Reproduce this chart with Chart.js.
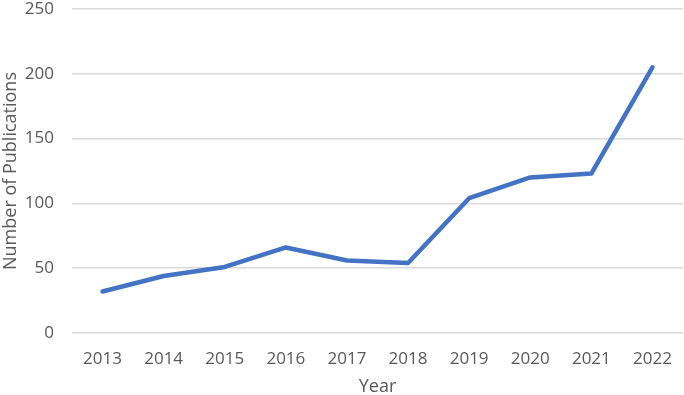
<!DOCTYPE html>
<html>
<head>
<meta charset="utf-8">
<script src="https://cdn.jsdelivr.net/npm/chart.js@4"></script>
<style>
  html, body { margin: 0; padding: 0; background: #fff; }
  #wrap { width: 684px; height: 395px; }
</style>
</head>
<body>
<div id="wrap"><canvas id="myChart"></canvas></div>
<script>
const years = ['2013', '2014', '2015', '2016', '2017', '2018', '2019', '2020', '2021', '2022'];
const publications = [32, 44, 51, 66, 56, 54, 104, 120, 123, 205];
const yTicks = [0, 50, 100, 150, 200, 250];

const ctx = document.getElementById('myChart');

new Chart(ctx, {
    type: 'line',
    data: {
        labels: years,
        datasets: [{
            label: 'Publications',
            data: publications,
            borderColor: '#4472C4',
            backgroundColor: '#4472C4',
            borderWidth: 4.5,
            pointRadius: 0,
            tension: 0,
            borderCapStyle: 'round',
            borderJoinStyle: 'round'
        }]
    },
    options: {
        responsive: true,
        maintainAspectRatio: false,
        animation: false,
        layout: { padding: { top: 0, right: 1, left: 0, bottom: 0 }, autoPadding: false },
        plugins: {
            legend: { display: false },
            tooltip: { enabled: false }
        },
        scales: {
            x: {
                offset: true,
                grid: { display: false },
                border: { display: false },
                ticks: { color: '#595959', font: { family: 'Open Sans', size: 17 }, padding: 8 },
                title: { display: true, text: 'Year', color: '#595959', font: { family: 'Open Sans', size: 18 }, padding: { top: 0, bottom: -3 } },
                afterFit: (axis) => { axis.height = 62; }
            },
            y: {
                min: yTicks[0],
                max: yTicks[yTicks.length - 1],
                afterBuildTicks: (axis) => { axis.ticks = yTicks.map(v => ({ value: v })); },
                grid: { color: '#d9d9d9', lineWidth: 1.5, drawTicks: false },
                border: { display: false },
                ticks: { color: '#595959', font: { family: 'Open Sans', size: 17 }, padding: 18 },
                title: { display: true, text: 'Number of Publications', color: '#595959', font: { family: 'Open Sans', size: 18 }, padding: { top: 0, bottom: 0 } },
                afterFit: (axis) => { axis.width = 72; axis.paddingTop = 9; axis.paddingBottom = 0; }
            }
        }
    }
});
</script>
</body>
</html>
